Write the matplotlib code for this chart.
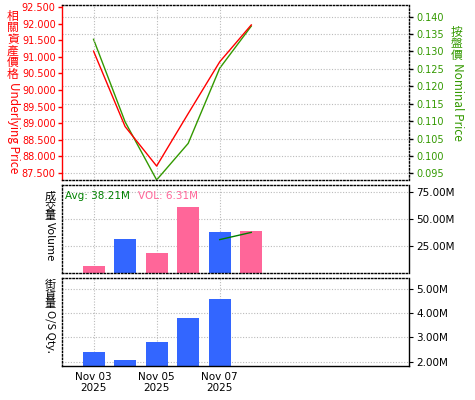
import pandas as pd
import numpy as np
import matplotlib
matplotlib.use("Agg")
import matplotlib.pyplot as plt
import matplotlib.dates as mdates
from matplotlib import ticker as mticker

# ----------------- data -----------------
DATES      = ["2025-11-03", "2025-11-04", "2025-11-05", "2025-11-06", "2025-11-07", "2025-11-08"]
UNDERLYING = [91.17, 88.90, 87.71, 89.29, 90.85, 91.96]
NOMINAL    = [0.1335, 0.1098, 0.0931, 0.1036, 0.1252, 0.1373]
VOLUME_M   = [6.31, 31.3, 18.4, 61.6, 37.7, 38.6]
VOL_UP     = [False, True, False, False, True, False]   # blue = up, pink = down
MA_DATES   = ["2025-11-07", "2025-11-08"]
MA_VALS_M  = [31.0, 37.7]
OS_DATES   = ["2025-11-03", "2025-11-04", "2025-11-05", "2025-11-06", "2025-11-07"]
OS_QTY_M   = [2.40, 2.07, 2.81, 3.80, 4.59]
TICK_DATES = ["2025-11-03", "2025-11-05", "2025-11-07"]

RED   = "#FF0000"
GREEN = "#339900"
BLUE  = "#3366FF"
PINK  = "#FF6699"
GRID  = "#BBBBBB"
CJK   = ["Noto Sans CJK TC", "DejaVu Sans"]
FS    = 7

plt.rcParams["font.family"] = ["DejaVu Sans"]
plt.rcParams["font.size"] = FS

d   = pd.to_datetime(DATES)
dma = pd.to_datetime(MA_DATES)
dos = pd.to_datetime(OS_DATES)
xlo, xhi = pd.Timestamp("2025-11-02"), pd.Timestamp("2025-11-13")

W, H = 475, 400
fig = plt.figure(figsize=(W / 100, H / 100), dpi=100)

def box(x0, y0, x1, y1):
    return [x0 / W, 1 - y1 / H, (x1 - x0) / W, (y1 - y0) / H]

ax_p = fig.add_axes(box(62, 5, 409, 180))
ax_v = fig.add_axes(box(62, 185, 409, 273))
ax_o = fig.add_axes(box(62, 278, 409, 366))

def style_panel(ax):
    for s in ax.spines.values():
        s.set_linestyle((0, (1, 1.5)))
        s.set_linewidth(1.0)
        s.set_color("black")
    ax.set_xlim(xlo, xhi)
    ax.set_xticks(pd.to_datetime(TICK_DATES))
    ax.xaxis.set_major_formatter(mdates.DateFormatter("%b %d\n%Y"))
    ax.grid(True, axis="x", color=GRID, ls=(0, (1, 1.5)), lw=0.8)
    ax.tick_params(axis="x", length=0, labelsize=FS + 0.5)
    ax.set_axisbelow(True)

# ----------------- price panel -----------------
style_panel(ax_p)
ax_p.tick_params(axis="x", labelbottom=False)
ax_p.plot(d, UNDERLYING, color=RED, lw=1.0, zorder=3)
ax_p.set_ylim(87.29, 92.56)
ax_p.yaxis.set_major_locator(mticker.MultipleLocator(0.5))
ax_p.yaxis.set_major_formatter(mticker.FormatStrFormatter("%.3f"))
ax_p.tick_params(axis="y", colors=RED, labelcolor=RED, length=3, width=1, labelsize=FS, pad=1.5)
ax_p.spines["left"].set_color(RED)
ax_p.spines["left"].set_linestyle("-")

ax_n = ax_p.twinx()
ax_n.plot(d, NOMINAL, color=GREEN, lw=1.0, zorder=3)
ax_n.set_ylim(0.09308, 0.14336)
ax_n.yaxis.set_major_locator(mticker.MultipleLocator(0.005))
ax_n.yaxis.set_major_formatter(mticker.FormatStrFormatter("%.3f"))
ax_n.tick_params(axis="y", colors="black", labelcolor=GREEN, length=3, width=1, labelsize=FS, pad=2)
ax_n.grid(True, axis="y", color=GRID, ls=(0, (1, 1.5)), lw=0.8)
for s in ax_n.spines.values():
    s.set_visible(False)
ax_n.set_zorder(ax_p.get_zorder() - 1)
ax_p.patch.set_visible(False)

# ----------------- volume panel -----------------
style_panel(ax_v)
ax_v.tick_params(axis="x", labelbottom=False)
ax_v.bar(d, VOLUME_M, width=0.7, color=[BLUE if u else PINK for u in VOL_UP], zorder=2)
ax_v.plot(dma, MA_VALS_M, color="#008000", lw=1.0, zorder=3)
ax_v.set_ylim(0, 81.7)
ax_v.yaxis.tick_right()
ax_v.set_yticks([25, 50, 75])
ax_v.yaxis.set_major_formatter(mticker.FuncFormatter(lambda v, p: f"{v:.2f}M"))
ax_v.tick_params(axis="y", length=3, labelsize=FS + 0.5, pad=2)
ax_v.grid(True, axis="y", color=GRID, ls=(0, (1, 1.5)), lw=0.8)
ax_v.spines["right"].set_linestyle("-")
ax_v.text(0.008, 0.87, "Avg: 38.21M", color="#008000", fontsize=FS + 0.5,
          transform=ax_v.transAxes, ha="left", va="center")
ax_v.text(0.22, 0.87, "VOL: 6.31M", color=PINK, fontsize=FS + 0.5,
          transform=ax_v.transAxes, ha="left", va="center")

# ----------------- O/S panel -----------------
style_panel(ax_o)
ax_o.bar(dos, OS_QTY_M, width=0.7, color=BLUE, zorder=2)
ax_o.set_ylim(1.82, 5.45)
ax_o.yaxis.tick_right()
ax_o.set_yticks([2, 3, 4, 5])
ax_o.yaxis.set_major_formatter(mticker.FuncFormatter(lambda v, p: f"{v:.2f}M"))
ax_o.tick_params(axis="y", length=3, labelsize=FS + 0.5, pad=2)
ax_o.grid(True, axis="y", color=GRID, ls=(0, (1, 1.5)), lw=0.8)
ax_o.spines["right"].set_linestyle("-")
ax_o.spines["bottom"].set_linestyle("-")
ax_o.tick_params(axis="x", pad=4)

# ----------------- vertical labels (CJK upright + latin rotated) -----------------
fig.canvas.draw()

def vlabel(x, y, cjk, latin, color, size=8.5, ls=0.85):
    t = fig.text(x / W, 1 - y / H, "\n".join(cjk), color=color, fontsize=size,
                 family=CJK, ha="center", va="top", linespacing=ls)
    bb = t.get_window_extent(fig.canvas.get_renderer())
    fig.text(x / W, (bb.y0 - 1) / H, latin, color=color, fontsize=size,
             family=CJK, rotation=-90, ha="center", va="top")

vlabel(13, 10, "相關資產價格", "Underlying Price", RED)
vlabel(457, 26, "按盤價", "Nominal Price", GREEN)
vlabel(50, 192, "成交量", "Volume", "black", size=8, ls=0.9)
vlabel(50, 280, "街貨量", "O/S Qty.", "black", size=8, ls=0.9)

fig.savefig("out.png", dpi=100)
